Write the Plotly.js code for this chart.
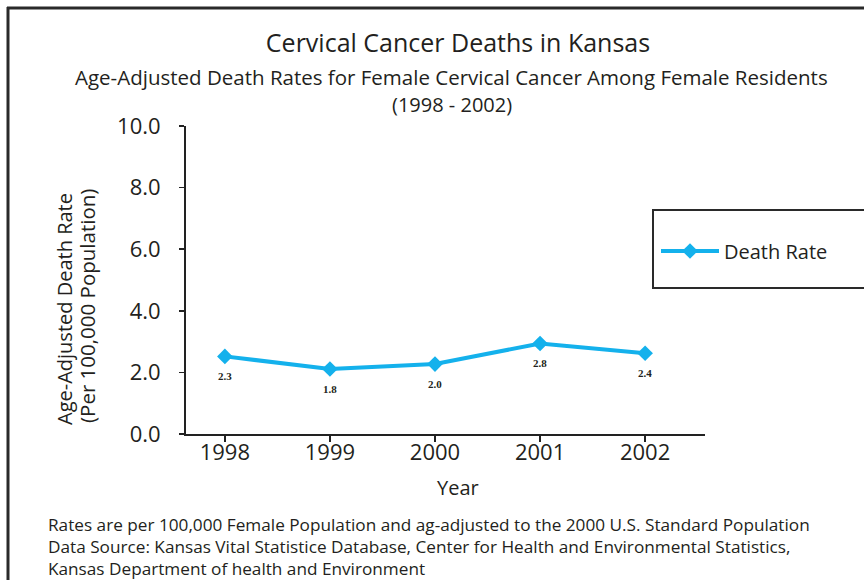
<!DOCTYPE html>
<html>
<head>
<meta charset="utf-8">
<script src="https://cdn.plot.ly/plotly-3.0.1.min.js"></script>
<style>html,body{margin:0;padding:0;background:#fff;}#chart{width:864px;height:580px;}</style>
</head>
<body>
<div id="chart"></div>
<script>
// ---- data ----
const years = [1998, 1999, 2000, 2001, 2002];
const rates = [2.52, 2.11, 2.27, 2.94, 2.62];          // plotted marker positions as drawn
const rateLabels = ["2.3", "1.8", "2.0", "2.8", "2.4"]; // data labels as printed
const yTickVals = [0, 2, 4, 6, 8, 10];
const yTickText = ["0.0", "2.0", "4.0", "6.0", "8.0", "10.0"];
const seriesName = "Death Rate";
const titleText = "Cervical Cancer Deaths in Kansas";
const subtitleText = "Age-Adjusted Death Rates for Female Cervical Cancer Among Female Residents";
const periodText = "(1998 - 2002)";
const xTitleText = "Year";
const yTitleLines = ["Age-Adjusted Death Rate", "(Per 100,000 Population)"];
const footnotes = [
  "Rates are per 100,000 Female Population and ag-adjusted to the 2000 U.S. Standard Population",
  "Data Source: Kansas Vital Statistice Database, Center for Health and Environmental Statistics,",
  "Kansas Department of health and Environment"
];

// ---- geometry helpers (plot area in px) ----
const W = 864, H = 580;
const L = 186, R = 705, T = 126, B = 434;
const px = x => (x - L) / (R - L);
const py = y => (B - y) / (B - T);

const FONT = "'Open Sans', 'Noto Sans', sans-serif";
const TXT = "#231f20";
const BLUE = "#14b1ec";

const trace = {
  x: years, y: rates, type: "scatter", mode: "lines+markers",
  name: seriesName,
  line: {color: BLUE, width: 4},
  marker: {symbol: "diamond", size: 12, color: BLUE},
  cliponaxis: false
};

const annotations = [
  {text: subtitleText, x: px(451), xref: "paper", y: py(77), yref: "paper", xanchor: "center", yanchor: "middle", showarrow: false,
   font: {family: FONT, size: 20.5, color: TXT}},
  {text: periodText, x: px(452), xref: "paper", y: py(104), yref: "paper", xanchor: "center", yanchor: "middle", showarrow: false,
   font: {family: FONT, size: 20, color: TXT}},
  {text: xTitleText, x: px(458), xref: "paper", y: py(487), yref: "paper", xanchor: "center", yanchor: "middle", showarrow: false,
   font: {family: FONT, size: 20, color: TXT}},
  {text: yTitleLines[0], x: px(64), xref: "paper", y: py(309), yref: "paper", xanchor: "center", yanchor: "middle", showarrow: false,
   textangle: -90, font: {family: FONT, size: 20, color: TXT}},
  {text: yTitleLines[1], x: px(87), xref: "paper", y: py(306), yref: "paper", xanchor: "center", yanchor: "middle", showarrow: false,
   textangle: -90, font: {family: FONT, size: 20.5, color: TXT}}
];
// data labels, placed through the axis scales and shifted below each marker
years.forEach((yr, i) => annotations.push({
  text: rateLabels[i], x: yr, xref: "x", y: rates[i], yref: "y", xanchor: "center", yanchor: "middle",
  yshift: -20, showarrow: false,
  font: {family: "'Liberation Serif', 'Times New Roman', serif", size: 11, color: TXT, weight: 700}
}));
const footY = [524, 546.5, 568];
footnotes.forEach((f, i) => annotations.push({
  text: f, x: px(46), xref: "paper", y: py(footY[i]), yref: "paper", xanchor: "left", yanchor: "middle", showarrow: false,
  font: {family: FONT, size: 17.2, color: TXT}
}));

const shapes = [
  // page frame (left + top)
  {type: "line", xref: "paper", yref: "paper", x0: px(8), x1: px(8), y0: py(7), y1: py(600), line: {color: "#2a2a2a", width: 3}},
  {type: "line", xref: "paper", yref: "paper", x0: px(7), x1: px(880), y0: py(8), y1: py(8), line: {color: "#2a2a2a", width: 3}},
  // legend box
  {type: "rect", xref: "paper", yref: "paper", x0: px(653), x1: px(880), y0: py(210), y1: py(288), line: {color: "#2a2a2a", width: 2}}
];

const layout = {
  width: W, height: H,
  margin: {l: L, r: W - R, t: T, b: H - B, pad: 0},
  paper_bgcolor: "#fff", plot_bgcolor: "#fff",
  font: {family: FONT, color: TXT},
  title: {text: titleText, x: px(458), xref: "paper", xanchor: "center", y: 1 - 43 / H, yanchor: "middle",
          font: {family: FONT, size: 25, color: TXT}},
  xaxis: {
    range: [1997.63, 2002.57], tickvals: years, ticktext: years.map(String),
    showgrid: false, zeroline: false, showline: true, linecolor: "#222", linewidth: 2,
    ticks: "outside", ticklen: 6, tickcolor: "#222", tickwidth: 1.5, ticklabelstandoff: -8,
    tickfont: {family: FONT, size: 22, color: TXT}, fixedrange: true
  },
  yaxis: {
    range: [0, 10], tickvals: yTickVals, ticktext: yTickText,
    showgrid: false, zeroline: false, showline: true, linecolor: "#222", linewidth: 2,
    ticks: "outside", ticklen: 5, tickcolor: "#222", tickwidth: 1.5, ticklabelstandoff: 14,
    tickfont: {family: FONT, size: 22, color: TXT}, fixedrange: true
  },
  showlegend: true,
  legend: {x: px(656), y: py(251), xanchor: "left", yanchor: "middle", xref: "paper", yref: "paper",
           bgcolor: "rgba(0,0,0,0)", borderwidth: 0, itemwidth: 58,
           font: {family: FONT, size: 20, color: TXT}},
  annotations: annotations,
  shapes: shapes
};

Plotly.newPlot("chart", [trace], layout, {displayModeBar: false, staticPlot: true});
</script>
</body>
</html>
